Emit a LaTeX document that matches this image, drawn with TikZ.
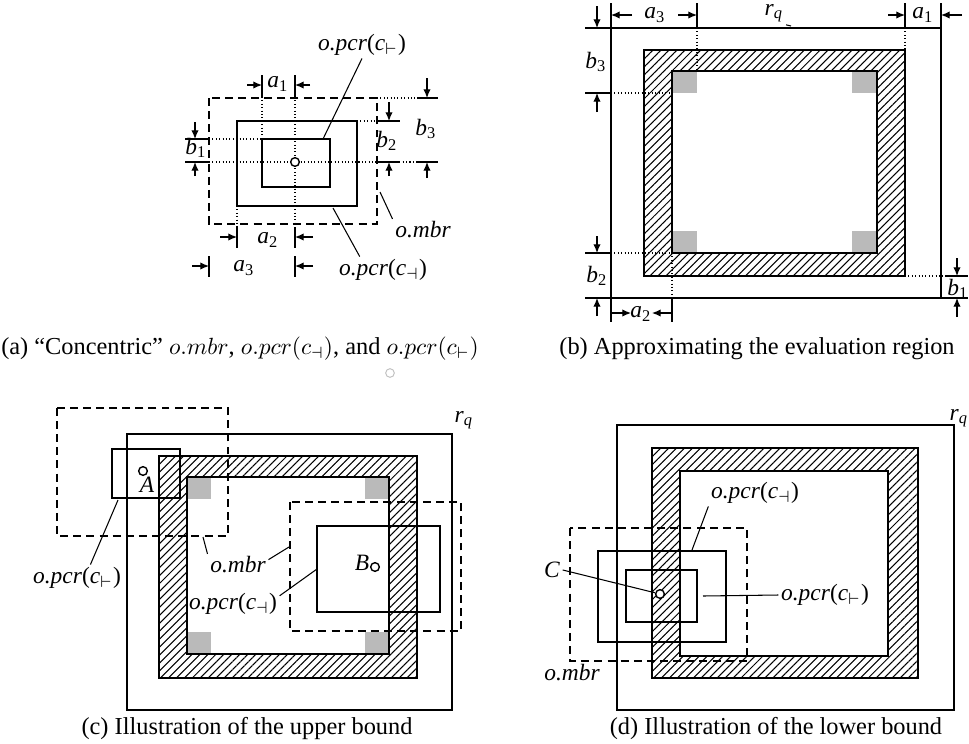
\documentclass[tikz,border=0pt]{standalone}
\usepackage{fontspec}
\setmainfont{Liberation Serif}
\usepackage{tikz}
\usetikzlibrary{arrows.meta, patterns.meta}

\newcommand{\dimlab}[2]{\textit{#1}\textsubscript{#2}}
\newcommand{\pcrlab}[1]{\textit{o.pcr}(\textit{c}\textsubscript{$#1$})}
\newcommand{\mbrlab}{\textit{o.mbr}}

\begin{document}
\begin{tikzpicture}[x=0.015cm, y=-0.015cm,
	box/.style={draw=black, line width=0.8pt},
	mbrbox/.style={draw=black, line width=0.8pt, dash pattern=on 3.4pt off 2.2pt},
	guide/.style={draw=black, line width=0.45pt, densely dotted},
	tick/.style={draw=black, line width=0.45pt},
	dim/.style={-{Latex[length=1.3mm, width=1.1mm]}, draw=black, line width=0.5pt},
	lead/.style={draw=black, line width=0.45pt},
	lbl/.style={inner sep=1pt},
	corner/.style={fill=black!27},
	hatch/.style={pattern={Lines[angle=45, distance=2.4pt, line width=0.45pt]}, even odd rule},
	pt/.style={circle, draw=black, line width=0.6pt, fill=white, inner sep=0pt, minimum size=0.13cm},
	capt/.style={inner sep=1pt, font=\fontsize{10.4}{12}\selectfont}
	]
\useasboundingbox (0,0) rectangle (969,743);

% (a) concentric o.mbr and the two pcr
\draw[mbrbox] (209,98) rectangle (377,224);
\draw[box] (237,121) rectangle (357,206);
\draw[box] (262,139) rectangle (330,187);

\draw[guide] (262,97) -- (262,139);
\draw[guide] (295,97) -- (295,226);
\draw[guide] (237,206) -- (237,227);
\draw[guide] (209,139) -- (262,139);
\draw[guide] (209,162) -- (417,162);
\draw[guide] (357,121) -- (378,121);
\draw[guide] (377,98) -- (417,98);

\draw[tick] (262,75) -- (262,97);
\draw[tick] (295,75) -- (295,97);
\draw[tick] (237,227) -- (237,248);
\draw[tick] (295,227) -- (295,248);
\draw[tick] (209,256) -- (209,277);
\draw[tick] (295,256) -- (295,277);
\draw[tick] (185,139) -- (209,139);
\draw[tick] (185,162) -- (209,162);
\draw[tick] (378,121) -- (400,121);
\draw[tick] (378,162) -- (400,162);
\draw[tick] (417,98) -- (438,98);
\draw[tick] (417,162) -- (438,162);

\draw[dim] (247,85) -- (262,85);
\draw[dim] (310,85) -- (295,85);
\draw[dim] (220,237) -- (237,237);
\draw[dim] (313,237) -- (295,237);
\draw[dim] (192,266) -- (209,266);
\draw[dim] (313,266) -- (295,266);
\draw[dim] (195,122) -- (195,139);
\draw[dim] (195,176) -- (195,162);
\draw[dim] (389,102) -- (389,121);
\draw[dim] (389,176) -- (389,162);
\draw[dim] (427,78) -- (427,98);
\draw[dim] (427,178) -- (427,162);

\node[lbl] (a1a) at (278,84) {\dimlab{a}{1}};
\node[lbl] (a2a) at (268,240) {\dimlab{a}{2}};
\node[lbl] (a3a) at (244,268) {\dimlab{a}{3}};
\node[lbl] (b1a) at (196,148) {\dimlab{b}{1}};
\node[lbl] (b2a) at (387,141) {\dimlab{b}{2}};
\node[lbl] (b3a) at (426,129) {\dimlab{b}{3}};

\node[pt] (oa) at (295,162) {};

\node[lbl] (pcrTa) at (362,45) {\pcrlab{\vdash}};
\coordinate (pinTa) at (323,139);
\draw[lead] (pcrTa.south) -- (pinTa);
\node[lbl] (mbra) at (423,230) {\mbrlab};
\coordinate (pinMa) at (380,192);
\draw[lead] (pinMa) -- (mbra.north west);
\node[lbl] (pcrBa) at (383,270) {\pcrlab{\dashv}};
\coordinate (pinBa) at (333,208);
\draw[lead] (pinBa) -- (pcrBa.150);

\node[capt] (capa) at (240,349) {(a) “Concentric” $o.mbr$, $o.pcr(c_\dashv)$, and $o.pcr(c_\vdash)$};
\node[pt, draw=black!25, line width=0.4pt] (spot) at (390,373) {};

% (b) evaluation region
\draw[box] (611,28) rectangle (941,298);
\fill[hatch] (644,50) rectangle (905,276) (672,71) rectangle (877,253);
\fill[corner] (672,71) rectangle (697,93);
\fill[corner] (852,71) rectangle (877,93);
\fill[corner] (672,231) rectangle (697,253);
\fill[corner] (852,231) rectangle (877,253);
\draw[box] (644,50) rectangle (905,276);
\draw[box] (672,71) rectangle (877,253);

\draw[guide] (697,28) -- (697,71);
\draw[guide] (905,28) -- (905,50);
\draw[guide] (611,93) -- (672,93);
\draw[guide] (611,253) -- (672,253);
\draw[guide] (672,253) -- (672,298);
\draw[guide] (905,276) -- (945,276);

\draw[tick] (611,3) -- (611,28);
\draw[tick] (697,3) -- (697,28);
\draw[tick] (905,3) -- (905,28);
\draw[tick] (941,3) -- (941,28);
\draw[tick] (585,28) -- (611,28);
\draw[tick] (585,93) -- (611,93);
\draw[tick] (585,253) -- (611,253);
\draw[tick] (585,298) -- (611,298);
\draw[tick] (611,298) -- (611,322);
\draw[tick] (672,298) -- (672,322);
\draw[tick] (945,276) -- (968,276);
\draw[tick] (941,298) -- (968,298);

\draw[dim] (632,15) -- (611,15);
\draw[dim] (678,15) -- (697,15);
\draw[dim] (888,15) -- (905,15);
\draw[dim] (962,15) -- (941,15);
\draw[dim] (597,6) -- (597,28);
\draw[dim] (597,112) -- (597,93);
\draw[dim] (597,236) -- (597,253);
\draw[dim] (597,316) -- (597,298);
\draw[dim] (611,313) -- (631,313);
\draw[dim] (672,313) -- (652,313);
\draw[dim] (957,258) -- (957,276);
\draw[dim] (957,317) -- (957,298);

\node[lbl] (a3b) at (655,15) {\dimlab{a}{3}};
\node[lbl] (a1b) at (923,15) {\dimlab{a}{1}};
\node[lbl] (b3b) at (596,62) {\dimlab{b}{3}};
\node[lbl] (b2b) at (597,276) {\dimlab{b}{2}};
\node[lbl] (a2b) at (641,314) {\dimlab{a}{2}};
\node[lbl] (b1b) at (958,289) {\dimlab{b}{1}};
\node[lbl] (rqb) at (774,13) {\dimlab{r}{\textit{q}}};
\coordinate (pinRb) at (791,26);
\draw[lead] (rqb.south east) -- (pinRb);

\node[capt] (capb) at (757,349) {(b) Approximating the evaluation region};

% (c) upper bound
\draw[box] (127,434) rectangle (452,710);
\fill[hatch] (159,456) rectangle (417,678) (187,477) rectangle (389,654);
\fill[corner] (187,477) rectangle (211,499);
\fill[corner] (365,477) rectangle (389,499);
\fill[corner] (187,632) rectangle (211,654);
\fill[corner] (365,632) rectangle (389,654);
\draw[box] (159,456) rectangle (417,678);
\draw[box] (187,477) rectangle (389,654);

\draw[mbrbox] (57,408) rectangle (228,536);
\draw[box] (112,449) rectangle (180,498);
\node[pt] (ptA) at (143,471) {};
\node[lbl] (labA) at (147,485) {\textit{A}};

\draw[mbrbox] (290,502) rectangle (461,631);
\draw[box] (317,526) rectangle (440,612);
\node[pt] (ptB) at (375,567) {};
\node[lbl] (labB) at (362,563) {\textit{B}};

\node[lbl] (rqc) at (464,420) {\dimlab{r}{\textit{q}}};

\node[lbl] (pcrAc) at (77,578) {\pcrlab{\vdash}};
\coordinate (pinAc) at (118,500);
\draw[lead] (pcrAc.45) -- (pinAc);
\node[lbl] (mbrc) at (238,565) {\mbrlab};
\coordinate (pinMc) at (203,537);
\coordinate (pinNc) at (289,547);
\draw[lead] (pinMc) -- (mbrc.north west);
\draw[lead] (mbrc.10) -- (pinNc);
\node[lbl] (pcrBc) at (233,604) {\pcrlab{\dashv}};
\coordinate (pinBc) at (317,569);
\draw[lead] (pcrBc.10) -- (pinBc);

\node[capt] (capc) at (247,729) {(c) Illustration of the upper bound};

% (d) lower bound
\draw[box] (617,425) rectangle (954,710);
\fill[hatch] (652,448) rectangle (918,678) (680,471) rectangle (888,656);
\draw[box] (652,448) rectangle (918,678);
\draw[box] (680,471) rectangle (888,656);

\draw[mbrbox] (570,528) rectangle (747,661);
\draw[box] (598,551) rectangle (726,642);
\draw[box] (626,570) rectangle (697,622);
\node[pt] (ptC) at (660,594) {};

\node[lbl] (labC) at (552,570) {\textit{C}};
\draw[lead] (labC.east) -- (ptC);
\node[lbl] (pcrBd) at (755,493) {\pcrlab{\dashv}};
\coordinate (pinBd) at (692,550);
\draw[lead] (pcrBd.south west) -- (pinBd);
\node[lbl] (pcrAd) at (825,595) {\pcrlab{\vdash}};
\coordinate (pinAd) at (703,596);
\draw[lead] (pinAd) -- (pcrAd.west);
\node[lbl] (mbrd) at (572,673) {\mbrlab};
\node[lbl] (rqd) at (959,418) {\dimlab{r}{\textit{q}}};

\node[capt] (capd) at (776,729) {(d) Illustration of the lower bound};

\end{tikzpicture}
\end{document}
